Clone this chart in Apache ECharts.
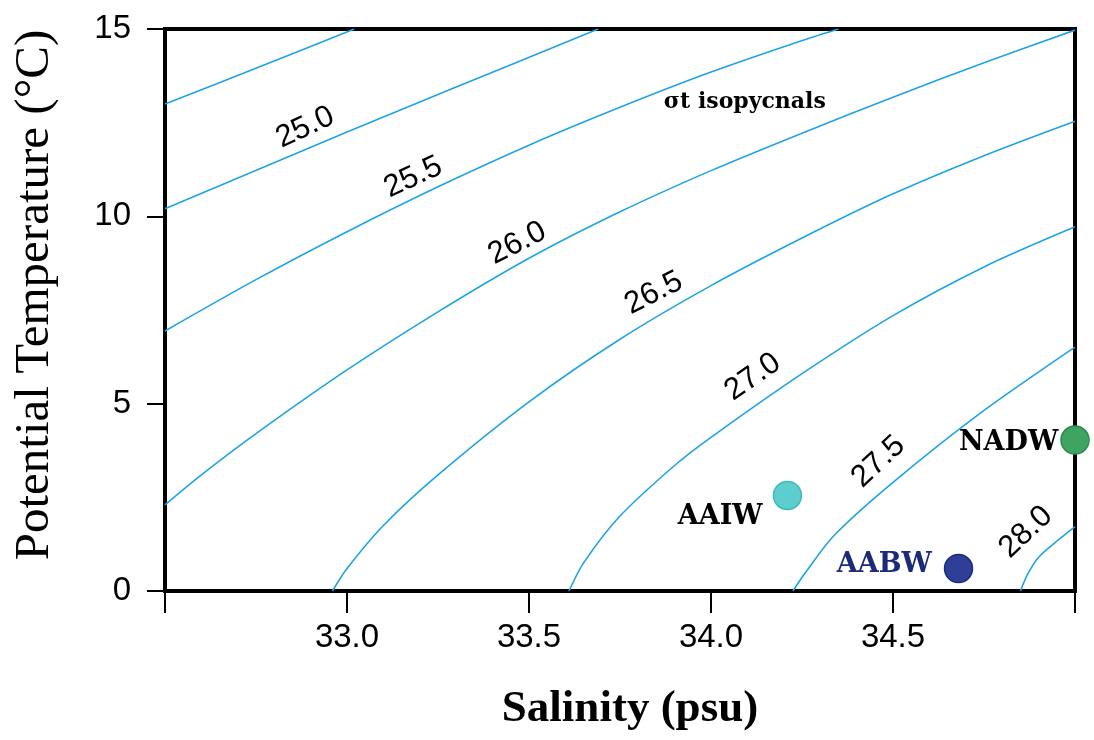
<!DOCTYPE html>
<html>
<head>
<meta charset="utf-8">
<script src="https://cdn.jsdelivr.net/npm/echarts@6/dist/echarts.min.js"></script>
<style>html,body{margin:0;padding:0;background:#fff}#c{width:1094px;height:740px}</style>
</head>
<body>
<div id="c"></div>
<script>
// ---- data ----
const salinityTicks = [32.5, 33.0, 33.5, 34.0, 34.5, 35.0];
const temperatureTicks = [0, 5, 10, 15];

// sigma-t isopycnals: [salinity, potential temperature]
const iso245 = [[32.5, 13.0], [32.76, 13.99], [33.02, 15.0]];
const iso250 = [[32.5, 10.2], [33.0, 12.25], [33.3, 13.45], [33.69, 15.0]];
const iso255 = [[32.5, 6.94], [32.75, 8.31], [33.0, 9.59], [33.25, 10.79], [33.5, 11.9], [33.75, 12.91], [34.0, 13.85], [34.25, 14.69], [34.35, 15.0]];
const iso260 = [[32.5, 2.30], [32.6, 3.1], [32.75, 4.2], [33.0, 5.9], [33.25, 7.45], [33.5, 8.88], [33.75, 10.12], [34.0, 11.22], [34.25, 12.22], [34.5, 13.18], [34.75, 14.1], [35.0, 14.97]];
const iso265 = [[32.96, 0.0], [33.0, 0.6], [33.1, 1.75], [33.25, 3.1], [33.5, 5.05], [33.75, 6.72], [34.0, 8.15], [34.25, 9.42], [34.5, 10.6], [34.75, 11.62], [35.0, 12.54]];
const iso270 = [[33.61, 0.0], [33.65, 0.75], [33.75, 2.0], [33.9, 3.35], [34.0, 4.1], [34.25, 5.8], [34.5, 7.35], [34.75, 8.65], [35.0, 9.72]];
const iso275 = [[34.225, 0.0], [34.26, 0.5], [34.34, 1.5], [34.5, 2.9], [34.75, 4.82], [35.0, 6.51]];
const iso280 = [[34.85, 0.0], [34.87, 0.45], [34.9, 0.9], [34.95, 1.33], [35.0, 1.72]];

const isoLevels = ['24.5', '25.0', '25.5', '26.0', '26.5', '27.0', '27.5', '28.0'];
const labelledLevels = ['25.0', '25.5', '26.0', '26.5', '27.0', '27.5', '28.0'];
const labelSalinity = [32.885, 33.182, 33.468, 33.843, 34.115, 34.460, 34.865];
const labelTemperature = [12.37, 11.04, 9.28, 7.95, 5.71, 3.45, 1.57];

const waterMasses = ['AAIW', 'AABW', 'NADW'];
const wmSalinity = [34.21, 34.68, 35.0];
const wmTemperature = [2.55, 0.60, 4.03];

const isopycnalNote = 'σt isopycnals';
const noteSalinity = 34.093;
const noteTemperature = 13.05;

// ---- styles ----
const lineColor = '#1ea4e6';
const labelRotate = [25, 25, 27, 27, 35, 43, 43];
const wmColors = ['#5ecdcd', '#2f3f98', '#3fa462'];
const wmBorder = ['#3fb9b9', '#1c2a80', '#2a8a4a'];
const wmLabelColor = ['#000', '#1c2a78', '#000'];
const wmLabelOffset = [[-4, 22], [-6, -4], [4, 3]];

const isoData = [iso245, iso250, iso255, iso260, iso265, iso270, iso275, iso280];

const series = isoData.map((d, i) => ({
  name: 'σt ' + isoLevels[i],
  type: 'line',
  data: d,
  smooth: 0.3,
  showSymbol: false,
  symbol: 'none',
  clip: true,
  lineStyle: { color: lineColor, width: 1.6 },
  silent: true,
  z: 2
}));

const plainLabel = { textBorderWidth: 0, textShadowBlur: 0, opacity: 1 };

series.push({
  name: 'labels',
  type: 'scatter',
  symbolSize: 0,
  silent: true,
  z: 5,
  itemStyle: { opacity: 1 },
  data: labelledLevels.map((t, i) => ({
    value: [labelSalinity[i], labelTemperature[i]],
    name: t,
    label: { rotate: labelRotate[i] }
  })),
  label: Object.assign({
    show: true,
    position: 'inside',
    formatter: p => p.name,
    fontFamily: 'Liberation Sans, Arial, sans-serif',
    fontSize: 31,
    color: '#000'
  }, plainLabel)
});

series.push({
  name: 'note',
  type: 'scatter',
  symbolSize: 0,
  silent: true,
  z: 5,
  itemStyle: { opacity: 1 },
  data: [{ value: [noteSalinity, noteTemperature], name: isopycnalNote }],
  label: Object.assign({
    show: true,
    position: 'inside',
    formatter: p => p.name,
    fontFamily: 'DejaVu Serif, serif',
    fontWeight: 'bold',
    fontSize: 22,
    color: '#000'
  }, plainLabel)
});

series.push({
  name: 'water masses',
  type: 'scatter',
  symbol: 'circle',
  symbolSize: 28,
  z: 6,
  clip: false,
  itemStyle: { opacity: 1 },
  data: waterMasses.map((n, i) => ({
    value: [wmSalinity[i], wmTemperature[i]],
    name: n,
    itemStyle: { color: wmColors[i], borderColor: wmBorder[i], borderWidth: 1.5, opacity: 1 },
    label: { color: wmLabelColor[i], offset: wmLabelOffset[i] }
  })),
  label: Object.assign({
    show: true,
    position: 'left',
    distance: 6,
    formatter: p => p.name,
    fontFamily: 'DejaVu Serif, serif',
    fontWeight: 'bold',
    fontSize: 27
  }, plainLabel)
});

const chart = echarts.init(document.getElementById('c'), null, { renderer: 'canvas' });
chart.setOption({
  animation: false,
  backgroundColor: '#fff',
  grid: {
    left: 165, right: 19, top: 29, bottom: 149,
    show: true, borderColor: '#000', borderWidth: 4, backgroundColor: 'transparent'
  },
  xAxis: {
    type: 'value',
    min: salinityTicks[0],
    max: salinityTicks[salinityTicks.length - 1],
    interval: 0.5,
    splitLine: { show: false },
    axisLine: { show: true, onZero: false, lineStyle: { color: '#000', width: 4 } },
    axisTick: { show: true, length: 22, lineStyle: { color: '#000', width: 2 } },
    axisLabel: {
      margin: 30,
      fontFamily: 'Liberation Sans, Arial, sans-serif',
      fontSize: 33,
      color: '#000',
      formatter: v => (v === salinityTicks[0] || v === salinityTicks[salinityTicks.length - 1]) ? '' : v.toFixed(1)
    },
    name: 'Salinity (psu)',
    nameLocation: 'middle',
    nameGap: 96,
    nameTextStyle: { fontFamily: 'Liberation Serif, Times New Roman, serif', fontWeight: 'bold', fontSize: 45, color: '#000', padding: [0, 0, 0, 20] }
  },
  yAxis: {
    type: 'value',
    min: temperatureTicks[0],
    max: temperatureTicks[temperatureTicks.length - 1],
    interval: 5,
    splitLine: { show: false },
    axisLine: { show: true, onZero: false, lineStyle: { color: '#000', width: 4 } },
    axisTick: { show: true, length: 18, lineStyle: { color: '#000', width: 2 } },
    axisLabel: {
      margin: 34,
      fontFamily: 'Liberation Sans, Arial, sans-serif',
      fontSize: 33,
      color: '#000'
    },
    name: 'Potential Temperature (°C)',
    nameLocation: 'middle',
    nameRotate: 90,
    nameGap: 105,
    nameTextStyle: { fontFamily: 'Liberation Serif, Times New Roman, serif', fontSize: 49, color: '#000', padding: [0, 0, 0, 30] }
  },
  series: series
});
</script>
</body>
</html>
